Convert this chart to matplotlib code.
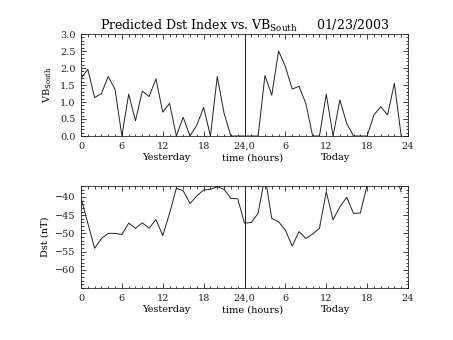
import numpy as np
import matplotlib
matplotlib.use("Agg")
import matplotlib.pyplot as plt
import matplotlib.transforms as mtransforms
from matplotlib.ticker import MultipleLocator

hours = np.arange(48)

vb_south = [1.70, 1.96, 1.13, 1.25, 1.75, 1.37, 0.0, 1.23, 0.45, 1.32,
            1.16, 1.68, 0.70, 0.96, 0.0, 0.55, 0.0, 0.32, 0.84, 0.0,
            1.75, 0.67, 0.0, 0.0, 0.0, 0.0, 0.0, 1.78, 1.20, 2.50,
            2.04, 1.38, 1.46, 0.96, 0.0, 0.0, 1.23, 0.0, 1.06, 0.37,
            0.0, 0.0, 0.0, 0.62, 0.86, 0.62, 1.55, 0.0]

dst = [-40.2, -47.2, -54.1, -51.4, -50.0, -50.0, -50.3, -47.2, -48.6, -47.1,
       -48.6, -46.2, -50.6, -44.5, -37.6, -38.3, -41.8, -39.7, -38.1, -37.9,
       -37.2, -37.9, -40.4, -40.5, -47.2, -47.0, -44.5, -34.3, -45.9, -46.8,
       -49.1, -53.5, -49.5, -51.4, -50.2, -48.6, -38.6, -46.3, -42.7, -40.1,
       -44.5, -44.4, -36.8, -34.0, -33.0, -33.0, -33.1, -38.6]

xtick_pos = [0, 6, 12, 18, 24, 30, 36, 42, 48]
xtick_labels = ["0", "6", "12", "18", "24,0", "6", "12", "18", "24"]
vb_ticks = [0.0, 0.5, 1.0, 1.5, 2.0, 2.5, 3.0]
dst_ticks = [-60, -55, -50, -45, -40]

plt.rcParams["font.family"] = "DejaVu Serif"
ink = "#222222"

fig = plt.figure(figsize=(4.53, 3.40), dpi=100)
ax1 = fig.add_axes([0.1788, 0.60, 0.7219, 0.30])
ax2 = fig.add_axes([0.1788, 0.1529, 0.7219, 0.30])


def style(ax):
    ax.set_xlim(0, 48)
    ax.set_xticks(xtick_pos)
    ax.set_xticklabels(xtick_labels)
    ax.xaxis.set_minor_locator(MultipleLocator(1))
    ax.tick_params(which="both", direction="in", top=True, right=True,
                   colors=ink, labelsize=7, width=0.6)
    ax.tick_params(which="major", length=3.5, pad=4)
    ax.tick_params(which="minor", length=1.8)
    for s in ax.spines.values():
        s.set_linewidth(0.6)
        s.set_color(ink)
    ax.axvline(24, color=ink, lw=0.7)
    tr = mtransforms.blended_transform_factory(ax.transData, ax.transAxes)
    ax.text(12.5, -0.215, "Yesterday", transform=tr, ha="center", va="center", fontsize=7)
    ax.text(25.2, -0.215, "time (hours)", transform=tr, ha="center", va="center", fontsize=7)
    ax.text(37.3, -0.215, "Today", transform=tr, ha="center", va="center", fontsize=7)


ax1.plot(hours, vb_south, color=ink, lw=0.7)
style(ax1)
ax1.set_ylim(0, 3.0)
ax1.set_yticks(vb_ticks)
ax1.set_yticklabels([f"{v:.1f}" for v in vb_ticks])
ax1.yaxis.set_minor_locator(MultipleLocator(0.1))
ax1.set_ylabel(r"VB$_{\mathregular{South}}$", fontsize=7, labelpad=4)
ax1.set_title(r"Predicted Dst Index vs. VB$_{\mathregular{South}}$     01/23/2003",
              fontsize=9, pad=3)

ax2.plot(hours, dst, color=ink, lw=0.7)
style(ax2)
ax2.set_ylim(-65, -37)
ax2.set_yticks(dst_ticks)
ax2.yaxis.set_minor_locator(MultipleLocator(1))
ax2.set_ylabel("Dst (nT)", fontsize=7, labelpad=4)

fig.savefig("out.png", dpi=100)
